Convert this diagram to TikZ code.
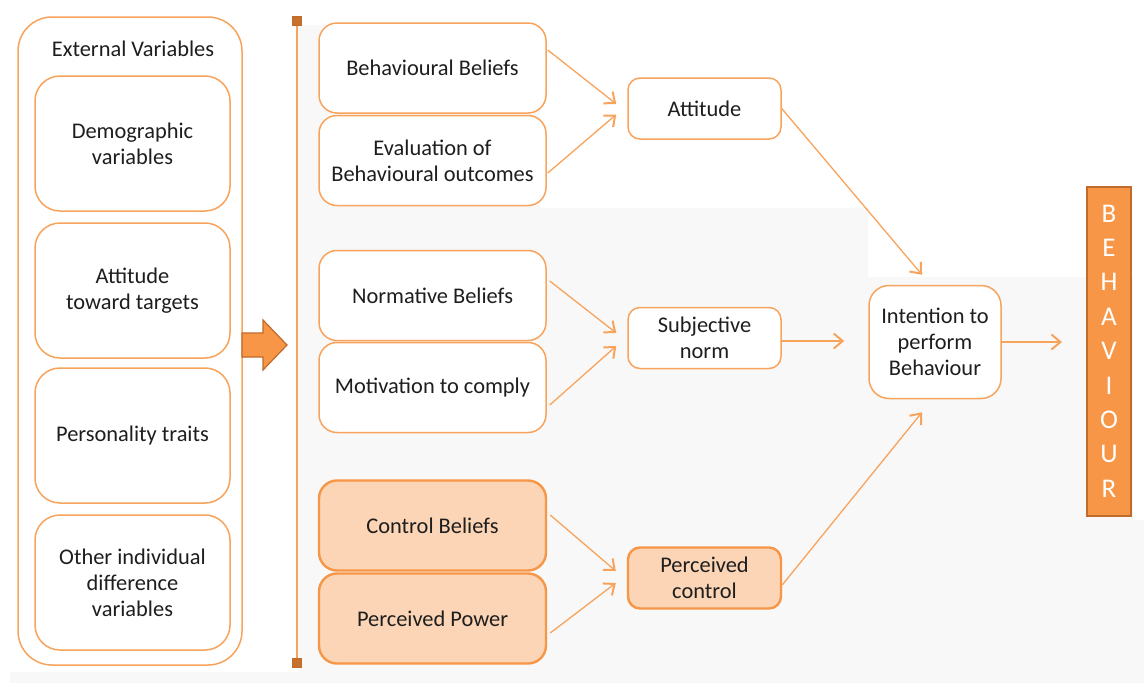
\documentclass[tikz,border=0pt]{standalone}
\usepackage{fontspec}
\setmainfont{Carlito}
\usetikzlibrary{arrows.meta,calc}
\definecolor{edge}{HTML}{F8A35C}
\definecolor{ora}{HTML}{F79646}
\definecolor{orad}{HTML}{C06A2B}
\definecolor{orafill}{HTML}{FBD5B5}
\definecolor{bgshade}{HTML}{F8F8F8}
\definecolor{txt}{HTML}{1E1E1E}
\tikzset{
  box/.style={draw=edge, line width=0.75pt, fill=white, align=center, text=txt,
    font=\fontsize{11.2}{13}\selectfont, inner sep=0pt},
  outer/.style={box, rounded corners=17pt, minimum width=112pt, minimum height=324pt},
  inner/.style={box, rounded corners=12.5pt, minimum width=97.5pt, minimum height=67.5pt},
  mid/.style={box, rounded corners=9pt, minimum width=113.5pt, minimum height=45pt},
  midfill/.style={mid, fill=orafill, draw=ora, line width=1.2pt},
  rmid/.style={box, rounded corners=6pt, minimum width=76.5pt, minimum height=30.5pt},
  rmidfill/.style={rmid, fill=orafill, draw=ora, line width=1.2pt},
  endsq/.style={draw=orad, fill=orad!85!ora, minimum size=4.2pt, inner sep=0pt},
  arr/.style={draw=edge, line width=0.65pt,
    -{Straight Barb[length=4.5pt,width=7.5pt,line width=1pt]}},
}
\begin{document}
\begin{tikzpicture}[x=0.5pt,y=-0.5pt]
\useasboundingbox (0,0) rectangle (1144,686);
% pale backdrop behind the model
\fill[bgshade] (298,25) -- (540,25) -- (540,208) -- (868,208) -- (868,277) -- (1133,277)
  -- (1133,520) -- (1144,520) -- (1144,683) -- (10,683) -- (10,672) -- (298,672) -- cycle;

% external variables
\node[outer] (ext) at (130,341) {};
\node[text=txt, font=\fontsize{11.2}{13}\selectfont] (extlbl) at (133,49) {External Variables};
\node[inner] (demo) at (132.5,143.5) {Demographic\\variables};
\node[inner] (atgt) at (132.5,290.5) {Attitude\\toward targets};
\node[inner] (pers) at (132.5,435.5) {Personality traits};
\node[inner] (oth)  at (132.5,582.5) {Other individual\\difference\\variables};

% block arrow into the belief column
\draw[fill=ora, draw=orad, line width=0.6pt] (242,333) -- (263,333) -- (263,320) -- (287,345)
  -- (263,370) -- (263,357) -- (242,357) -- cycle;

% bracket line
\node[endsq] (ltop) at (297,21) {};
\node[endsq] (lbot) at (297,663) {};
\draw[draw=edge, line width=0.8pt] (ltop) -- (lbot);

% beliefs
\node[mid] (bb)  at (432.5,68)    {Behavioural Beliefs};
\node[mid] (ev)  at (432.5,160.5) {Evaluation of\\Behavioural outcomes};
\node[mid] (nb)  at (432.5,295.5) {Normative Beliefs};
\node[mid] (mc)  at (432.5,387.5) {Motivation to comply};
\node[midfill] (cb) at (432.5,525.5) {Control Beliefs};
\node[midfill] (pp) at (432.5,618.5) {Perceived Power};

% constructs
\node[rmid] (att) at (704.5,108.5) {Attitude};
\node[rmid] (sub) at (704.5,338) {Subjective\\norm};
\node[rmidfill] (pc) at (704.5,578) {Perceived\\control};

\node[box, rounded corners=10pt, minimum width=66pt, minimum height=56.5pt] (int) at (935,342)
  {Intention to\\perform\\Behaviour};

\node[draw=orad, fill=ora, line width=1pt, minimum width=22pt, minimum height=164.5pt, inner sep=0pt,
  text=white, align=center, font=\fontsize{13.5}{17.2}\selectfont] (beh) at (1109,351)
  {B\\E\\H\\A\\V\\I\\O\\U\\R};

% connectors
\draw[arr] ($(bb.east)+(1,-18)$) -- ($(att.west)+(-11,-4.5)$);
\draw[arr] ($(ev.east)+(1,12.5)$)  -- ($(att.west)+(-11,6)$);
\draw[arr] ($(nb.east)+(3,-14.5)$) -- ($(sub.west)+(-11,-5)$);
\draw[arr] ($(mc.east)+(3,17.5)$)  -- ($(sub.west)+(-11,8)$);
\draw[arr] ($(cb.east)+(3,-10.5)$) -- ($(pc.west)+(-11,-7)$);
\draw[arr] ($(pp.east)+(3,14.5)$) -- ($(pc.west)+(-11,5)$);
\draw[arr] (att.east) -- ($(int.north)+(-13,-10)$);
\draw[arr] ($(sub.east)+(0,3)$) -- ($(int.west)+(-24,-1)$);
\draw[arr] ($(pc.east)+(0,7)$) -- ($(int.south)+(-13,13)$);
\draw[arr] (int.east) -- ($(beh.west|-int.east)+(-24,0)$);
\end{tikzpicture}
\end{document}
